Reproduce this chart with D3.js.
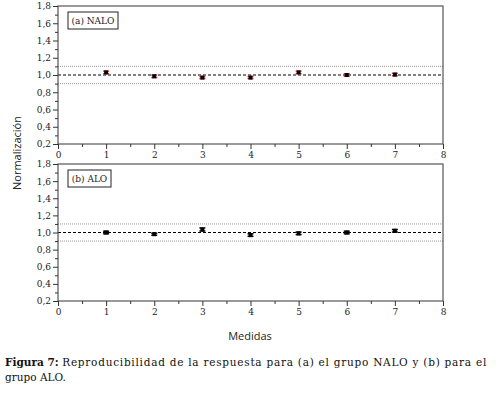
<!DOCTYPE html>
<html>
<head>
<meta charset="utf-8">
<script src="https://cdn.jsdelivr.net/npm/d3@7"></script>
<style>
  body { margin: 0; background: #fff; }
  svg { display: block; }
</style>
</head>
<body>
<div id="chart"></div>
<script>
// medidas (x) and normalised response per group
const medidas = [1, 2, 3, 4, 5, 6, 7];
const naloValues = [1.03, 0.985, 0.97, 0.97, 1.03, 1.00, 1.005];
const naloErrors = [0.015, 0.015, 0.012, 0.012, 0.015, 0.015, 0.015];
const aloValues = [1.00, 0.98, 1.035, 0.97, 0.99, 1.00, 1.02];
const aloErrors = [0.015, 0.012, 0.018, 0.015, 0.015, 0.015, 0.015];
const xTicks = [0, 1, 2, 3, 4, 5, 6, 7, 8];
const yTicks = [0.2, 0.4, 0.6, 0.8, 1.0, 1.2, 1.4, 1.6, 1.8];
const refLines = [
  { value: 1.0, kind: "dashed" },
  { value: 1.1, kind: "dotted" },
  { value: 0.9, kind: "dotted" }
];

const W = 500, H = 399;
const svg = d3.select("#chart").append("svg").attr("width", W).attr("height", H);

const left = 58, right = 443;
const x = d3.scaleLinear().domain([0, 8]).range([left, right]);
const fmt = d3.formatLocale({ decimal: ",", thousands: ".", grouping: [3], currency: ["", ""] }).format(".1f");

const panels = [
  { label: "(a) NALO", top: 6, bottom: 144, values: naloValues, errors: naloErrors, barColor: "#d8404e", boxW: 50 },
  { label: "(b) ALO", top: 164, bottom: 301, values: aloValues, errors: aloErrors, barColor: "#111", boxW: 43 }
];

const tickFont = "'DejaVu Serif', serif";

panels.forEach(p => {
  const y = d3.scaleLinear().domain([0.2, 1.8]).range([p.bottom, p.top]);
  const g = svg.append("g");

  // reference lines
  refLines.forEach(r => {
    g.append("line")
      .attr("x1", left).attr("x2", right)
      .attr("y1", y(r.value)).attr("y2", y(r.value))
      .attr("stroke", r.kind === "dashed" ? "#000" : "#999")
      .attr("stroke-width", 1)
      .attr("stroke-dasharray", r.kind === "dashed" ? "3,2" : "1,1");
  });

  // frame
  g.append("rect")
    .attr("x", left).attr("y", p.top)
    .attr("width", right - left).attr("height", p.bottom - p.top)
    .attr("fill", "none").attr("stroke", "#555").attr("stroke-width", 1.2);

  // y axis
  const yAxis = g.append("g").attr("transform", `translate(${left},0)`)
    .call(d3.axisLeft(y).tickValues(yTicks).tickFormat(fmt).tickSize(5).tickPadding(2));
  g.append("g").attr("transform", `translate(${left},0)`)
    .call(d3.axisLeft(y).tickValues(d3.range(0.3, 1.8, 0.2)).tickFormat("").tickSize(3))
    .select(".domain").remove();
  yAxis.select(".domain").remove();

  // x axis
  const xAxis = g.append("g").attr("transform", `translate(0,${p.bottom})`)
    .call(d3.axisBottom(x).tickValues(xTicks).tickFormat(d3.format("d")).tickSize(5).tickPadding(3));
  g.append("g").attr("transform", `translate(0,${p.bottom})`)
    .call(d3.axisBottom(x).tickValues(d3.range(0.5, 8, 1)).tickFormat("").tickSize(3))
    .select(".domain").remove();
  xAxis.select(".domain").remove();

  g.selectAll(".tick line").attr("stroke", "#333");
  g.selectAll(".tick text").attr("font-family", tickFont).attr("font-size", 9).attr("fill", "#222");

  // label box
  g.append("rect")
    .attr("x", 68).attr("y", p.top + 6)
    .attr("width", p.boxW).attr("height", 17)
    .attr("fill", "#fff").attr("stroke", "#222").attr("stroke-width", 1);
  g.append("text")
    .attr("x", 68 + p.boxW / 2).attr("y", p.top + 18)
    .attr("text-anchor", "middle")
    .attr("font-family", tickFont).attr("font-size", 9).attr("fill", "#222")
    .text(p.label);

  // error bars + points
  const pts = medidas.map((m, i) => ({ m, v: p.values[i], e: p.errors[i] }));
  const pg = g.selectAll(".pt").data(pts).enter().append("g");
  pg.append("line")
    .attr("x1", d => x(d.m)).attr("x2", d => x(d.m))
    .attr("y1", d => y(d.v + d.e)).attr("y2", d => y(d.v - d.e))
    .attr("stroke", p.barColor).attr("stroke-width", 1.5);
  [1, -1].forEach(s => {
    pg.append("line")
      .attr("x1", d => x(d.m) - 3).attr("x2", d => x(d.m) + 3)
      .attr("y1", d => y(d.v + s * d.e)).attr("y2", d => y(d.v + s * d.e))
      .attr("stroke", p.barColor).attr("stroke-width", 1.5);
  });
  pg.append("rect")
    .attr("x", d => x(d.m) - 2).attr("y", d => y(d.v) - 2)
    .attr("width", 4).attr("height", 4)
    .attr("fill", "#000");
});

// axis titles
svg.append("text")
  .attr("transform", "translate(21,153) rotate(-90)")
  .attr("text-anchor", "middle")
  .attr("font-family", "'Open Sans', sans-serif").attr("font-size", 11).attr("fill", "#222")
  .text("Normalización");
svg.append("text")
  .attr("x", 250).attr("y", 340)
  .attr("text-anchor", "middle")
  .attr("font-family", "'Open Sans', sans-serif").attr("font-size", 11).attr("fill", "#222")
  .text("Medidas");

// caption
const cap = svg.append("text")
  .attr("x", 5).attr("y", 366)
  .attr("font-family", "'DejaVu Serif', serif").attr("font-size", 10.5).attr("fill", "#111");
cap.append("tspan").attr("font-weight", "bold").text("Figura 7: ");
cap.append("tspan")
  .attr("textLength", 424).attr("lengthAdjust", "spacing")
  .text("Reproducibilidad de la respuesta para (a) el grupo NALO y (b) para el");
svg.append("text")
  .attr("x", 5).attr("y", 381)
  .attr("font-family", "'DejaVu Serif', serif").attr("font-size", 10.5).attr("fill", "#111")
  .text("grupo ALO.");
</script>
</body>
</html>
